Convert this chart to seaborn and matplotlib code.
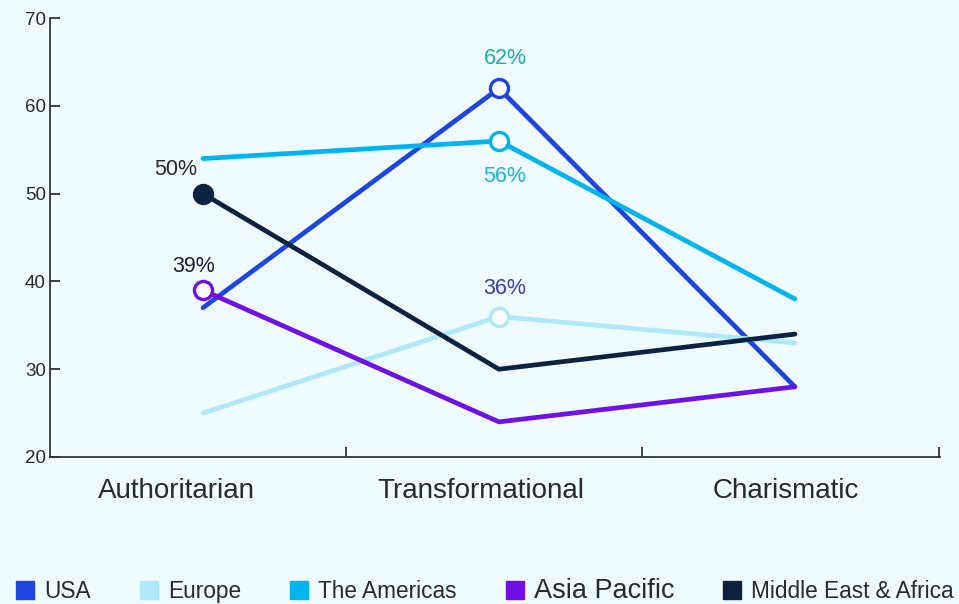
import numpy as np
import pandas as pd
import seaborn as sns
from matplotlib import pyplot as plt
from matplotlib.lines import Line2D

styles = ['Authoritarian', 'Transformational', 'Charismatic']
regions = ['USA', 'Europe', 'The Americas', 'Asia Pacific', 'Middle East & Africa']
usa = [37, 62, 28]
europe = [25, 36, 33]
americas = [54, 56, 38]
asia_pacific = [39, 24, 28]
mea = [50, 30, 34]
colors = ['#1f45e0', '#b0e8fb', '#00b4ef', '#7010e6', '#0b2340']

# highlighted points: (region, style index, label, label colour, hollow)
highlights = [
    ('USA', 1, '62%', '#1aafa3', True),
    ('The Americas', 1, '56%', '#19b5dc', True),
    ('Europe', 1, '36%', '#3b3f9e', True),
    ('Middle East & Africa', 0, '50%', '#2a2a2a', False),
    ('Asia Pacific', 0, '39%', '#1a1a3a', True),
]

values = {'USA': usa, 'Europe': europe, 'The Americas': americas,
          'Asia Pacific': asia_pacific, 'Middle East & Africa': mea}
rows = []
for r in regions:
    for i, s in enumerate(styles):
        rows.append({'region': r, 'x': i, 'style': s, 'value': values[r][i]})
df = pd.DataFrame(rows)
palette = dict(zip(regions, colors))

sns.set_theme(style='ticks')
plt.rcParams['font.family'] = ['Liberation Sans', 'DejaVu Sans']
bg = '#effbff'

fig = plt.figure(figsize=(9.59, 6.04), dpi=100)
fig.patch.set_facecolor(bg)
ax = fig.add_axes([0.0521, 0.2434, 0.928, 0.7266])
ax.set_facecolor(bg)

sns.lineplot(data=df, x='x', y='value', hue='region', palette=palette,
             hue_order=regions, linewidth=3.4, legend=False, ax=ax,
             solid_capstyle='round')

offsets = {'62%': (6, 30), '56%': (6, -35), '36%': (6, 28),
           '50%': (-27, 24), '39%': (-9, 24)}
for r, i, label, tc, hollow in highlights:
    y = values[r][i]
    c = palette[r]
    ax.plot(i, y, marker='o', markersize=13,
            markerfacecolor='white' if hollow else c,
            markeredgecolor=c, markeredgewidth=2.4, zorder=5)
    dx, dy = offsets[label]
    ax.annotate(label, (i, y), xytext=(dx, dy), textcoords='offset pixels',
                ha='center', va='center', fontsize=15.5, color=tc)

ax.set_xlim(-0.517, 2.49)
ax.set_ylim(20, 70)
ax.set_yticks([20, 30, 40, 50, 60, 70])
ax.set_xticks([0.483, 1.483, 2.487])
ax.set_xticklabels([])
ax.set_xticks([-0.088, 0.94, 1.97], minor=True)
ax.set_xticklabels(styles, minor=True)
ax.tick_params(axis='x', which='minor', length=0, pad=15, labelsize=20, labelcolor='#2a2a2a')
ax.tick_params(axis='x', which='major', direction='in', length=7, width=1.3, color='#333333')
ax.tick_params(axis='y', direction='in', length=7, width=1.3, color='#333333',
               labelsize=13.5, labelcolor='#2a2a2a', pad=3)
ax.set_xlabel('')
ax.set_ylabel('')
sns.despine(ax=ax)
for sp in ['left', 'bottom']:
    ax.spines[sp].set_color('#333333')
    ax.spines[sp].set_linewidth(1.3)

handles = [Line2D([], [], linestyle='none', marker='s', markersize=13,
                  markerfacecolor=c, markeredgecolor=c) for c in colors]
leg = fig.legend(handles, regions, loc='lower left', bbox_to_anchor=(-0.003, -0.034),
                 ncol=5, frameon=False, fontsize=16.3, handlelength=0.7,
                 handletextpad=0.5, columnspacing=2.2)
for t in leg.get_texts():
    t.set_color('#2a2a2a')
leg.get_texts()[3].set_fontsize(19.5)

fig.savefig('out.png', dpi=100, facecolor=bg)
